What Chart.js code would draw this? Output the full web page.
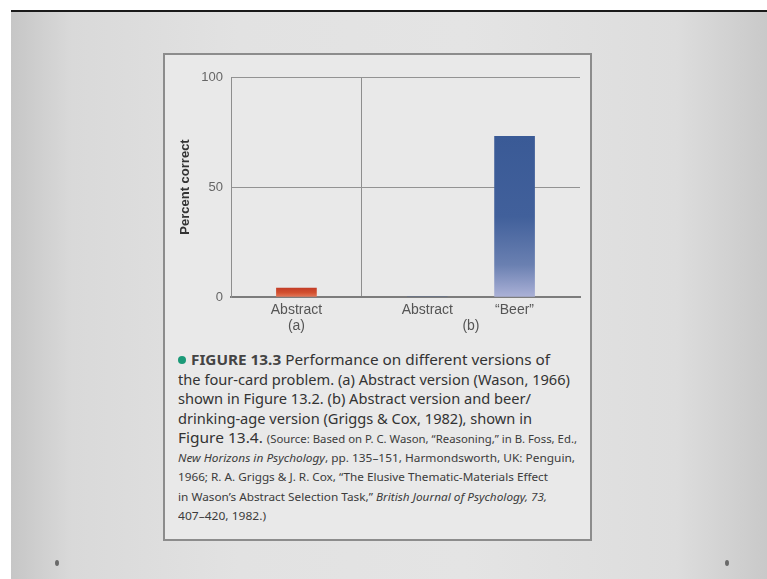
<!DOCTYPE html>
<html>
<head>
<meta charset="utf-8">
<script src="https://cdn.jsdelivr.net/npm/chart.js@4.4.1/dist/chart.umd.min.js"></script>
<style>
  html, body { margin: 0; padding: 0; background: #fff; }
  body { width: 767px; height: 579px; position: relative; overflow: hidden; }
  #slide {
    position: absolute; left: 11px; top: 10px; right: 0; bottom: 0;
    border-top: 2px solid #1a1a1a;
    background: linear-gradient(to right, #c6c6c6 0%, #d9d9d9 8%, #e2e2e2 30%, #e4e4e4 60%, #dddddd 88%, #c9c9c9 100%);
  }
  #card {
    position: absolute; left: 163px; top: 53px; width: 425px; height: 484px;
    background: #e9e9e9; border: 2px solid #8c8c8c;
  }
  #chartBox { position: absolute; left: 166px; top: 60px; width: 422px; height: 285px; }
  #caption {
    position: absolute; left: 178px; top: 350px;
    font-family: "Noto Sans", sans-serif; color: #333;
  }
  .ln { height: 19.5px; line-height: 19.5px; white-space: nowrap; font-size: 15px; }
  .ln span.t { display: inline-block; transform-origin: 0 50%; }
  .ln b { color: #444; }
  .ln small, .sm { font-size: 11px; color: #3c3c3c; }
  .dot {
    position: absolute; left: 0; top: 6px; width: 8px; height: 8px;
    border-radius: 50%; background: #1b9a78;
  }
  .pin { position: absolute; width: 4px; height: 6px; border-radius: 50%; background: #6a6a6a; top: 560px; }
</style>
</head>
<body>
<div id="slide"></div>
<div id="card"></div>
<div id="chartBox"><canvas id="fig"></canvas></div>
<div id="caption">
  <div class="ln" style="position:relative;padding-left:13px" data-w="359"><span class="dot"></span><span class="t"><b>FIGURE 13.3</b> Performance on different versions of</span></div>
  <div class="ln" data-w="392"><span class="t">the four-card problem. (a) Abstract version (Wason, 1966)</span></div>
  <div class="ln" data-w="353"><span class="t">shown in Figure 13.2. (b) Abstract version and beer/</span></div>
  <div class="ln" data-w="354"><span class="t">drinking-age version (Griggs &amp; Cox, 1982), shown in</span></div>
  <div class="ln" data-w="399"><span class="t">Figure 13.4. <small>(Source: Based on P. C. Wason, “Reasoning,” in B. Foss, Ed.,</small></span></div>
  <div class="ln sm" data-w="397"><span class="t"><i>New Horizons in Psychology</i>, pp. 135–151, Harmondsworth, UK: Penguin,</span></div>
  <div class="ln sm" data-w="370"><span class="t">1966; R. A. Griggs &amp; J. R. Cox, “The Elusive Thematic-Materials Effect</span></div>
  <div class="ln sm" data-w="369"><span class="t">in Wason’s Abstract Selection Task,” <i>British Journal of Psychology, 73,</i></span></div>
  <div class="ln sm" data-w="88"><span class="t">407–420, 1982.)</span></div>
</div>
<div class="pin" style="left:55px"></div>
<div class="pin" style="left:725px"></div>

<script>
// chart data
const slotLabels = ['', 'Abstract', '', '', 'Abstract', '', '“Beer”', ''];
const percentCorrect = [null, 4, null, null, 0, null, 73, null];
const yTicks = [0, 50, 100];
const groupNames = ['(a)', '(b)'];
const groupFirst = [1, 4];
const groupLast = [1, 6];

// squeeze caption lines to the widths of the printed figure
document.querySelectorAll('#caption .ln').forEach(function(ln) {
  var t = ln.querySelector('.t');
  var w = t.getBoundingClientRect().width;
  var target = parseFloat(ln.dataset.w);
  t.style.transform = 'scaleX(' + (target / w) + ')';
});

function barFill(context) {
  var chart = context.chart;
  var area = chart.chartArea;
  var v = context.raw;
  if (!area || v == null || !chart.scales.y) return 'rgba(0,0,0,0)';
  var top = chart.scales.y.getPixelForValue(v);
  if (!isFinite(top) || !isFinite(area.bottom)) return 'rgba(0,0,0,0)';
  var g = chart.ctx.createLinearGradient(0, Math.min(top, area.bottom - 1), 0, area.bottom);
  if (context.dataIndex === 1) {
    g.addColorStop(0, '#c43d27');
    g.addColorStop(0.5, '#d2502f');
    g.addColorStop(1, '#e4785a');
  } else {
    g.addColorStop(0, '#3a5a96');
    g.addColorStop(0.5, '#41609b');
    g.addColorStop(0.8, '#6a80b1');
    g.addColorStop(1, '#abb1d7');
  }
  return g;
}

// draws (a) / (b) under the category labels
const groupLabelPlugin = {
  id: 'groupLabels',
  afterDraw: function(chart) {
    var x = chart.scales.x;
    var ctx = chart.ctx;
    ctx.save();
    ctx.font = '14px "Liberation Sans", Arial, sans-serif';
    ctx.fillStyle = '#555';
    ctx.textAlign = 'center';
    ctx.textBaseline = 'middle';
    groupNames.forEach(function(name, i) {
      var cx = (x.getPixelForValue(groupFirst[i]) + x.getPixelForValue(groupLast[i])) / 2;
      ctx.fillText(name, cx, chart.chartArea.bottom + 29);
    });
    ctx.restore();
  }
};

Chart.defaults.font.family = '"Liberation Sans", Arial, sans-serif';
Chart.defaults.animation = false;

new Chart(document.getElementById('fig'), {
  type: 'bar',
  data: {
    labels: slotLabels,
    datasets: [{
      data: percentCorrect,
      backgroundColor: barFill,
      barThickness: 40,
      borderWidth: 0
    }]
  },
  options: {
    responsive: true,
    maintainAspectRatio: false,
    layout: { padding: { top: 17, right: 8, left: 0, bottom: 0 } },
    plugins: { legend: { display: false }, tooltip: { enabled: false } },
    scales: {
      x: {
        offset: true,
        grid: {
          offset: true,
          drawTicks: false,
          color: function(c) { return c.index === 3 ? '#8e8e8e' : 'rgba(0,0,0,0)'; }
        },
        border: { display: true, color: '#7c7c7c', width: 2 },
        ticks: { color: '#555', font: { size: 14 }, padding: 5, maxRotation: 0, autoSkip: false },
        afterFit: function(s) { s.height = 48; }
      },
      y: {
        min: 0,
        max: 100,
        afterBuildTicks: function(s) { s.ticks = yTicks.map(function(v) { return { value: v }; }); },
        grid: {
          drawTicks: false,
          color: function(c) { return c.tick && c.tick.value === 0 ? 'rgba(0,0,0,0)' : '#939393'; }
        },
        border: { display: true, color: '#8e8e8e', width: 1 },
        ticks: { color: '#666', font: { size: 13 }, padding: 8 },
        title: {
          display: true,
          text: 'Percent correct',
          color: '#333',
          font: { size: 13, weight: 'bold' },
          padding: { top: 12, bottom: 0 }
        },
        afterFit: function(s) { s.width = 65; }
      }
    }
  },
  plugins: [groupLabelPlugin]
});
</script>
</body>
</html>
